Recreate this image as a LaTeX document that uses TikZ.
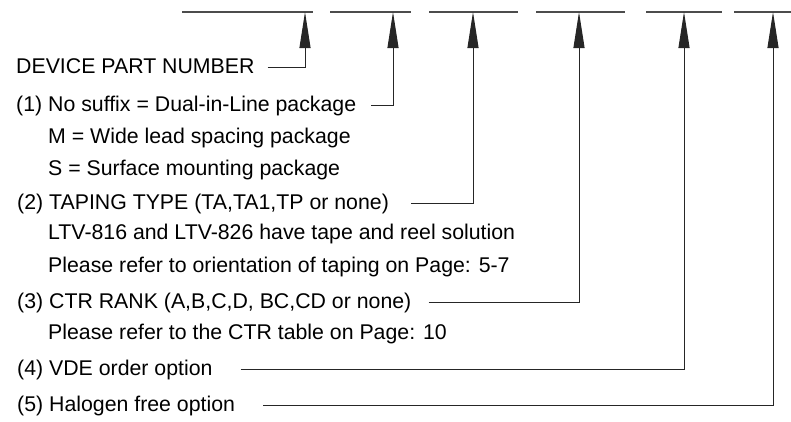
\documentclass[tikz,border=0pt]{standalone}
\usepackage{fontspec}
\setmainfont{Liberation Sans}
\usetikzlibrary{arrows.meta}

\tikzset{
    entry/.style={anchor=west, inner sep=0pt, text height=12pt, text depth=0pt,
        font=\fontsize{21.3}{25}\selectfont},
    fieldbar/.style={draw=black!70, line width=1.1pt},
    lead/.style={draw=black!85, line width=1pt,
        -{Triangle[length=36pt,width=11pt]}},
}

\begin{document}
\begin{tikzpicture}[x=1pt,y=-1pt]
    \useasboundingbox (0,0) rectangle (791,421);
    % ordering code fields
    \draw[fieldbar] (182,12) -- (313,12);
    \draw[fieldbar] (330,12) -- (411,12);
    \draw[fieldbar] (429,12) -- (518,12);
    \draw[fieldbar] (536,12) -- (625,12);
    \draw[fieldbar] (646,12) -- (722,12);
    \draw[fieldbar] (734,12) -- (791,12);
    \coordinate (f1) at (305,12);
    \coordinate (f2) at (393,12);
    \coordinate (f3) at (473,12);
    \coordinate (f4) at (579,12);
    \coordinate (f5) at (684,12);
    \coordinate (f6) at (773,12);
    % explanations
    \node[entry] (dev)   at (16,67)  {DEVICE PART NUMBER};
    \node[entry] (opt1)  at (16,105) {(1) No suffix = Dual-in-Line package};
    \node[entry] (opt1m) at (48,137) {M = Wide lead spacing package};
    \node[entry] (opt1s) at (48,169) {S = Surface mounting package};
    \node[entry] (opt2)  at (17,203) {(2) TAPING TYPE (TA,TA1,TP or none)};
    \node[entry] (opt2a) at (48,233) {LTV-816 and LTV-826 have tape and reel solution};
    \node[entry] (opt2b) at (48,266) {Please refer to orientation of taping on Page: 5-7};
    \node[entry] (opt3)  at (17,302) {(3) CTR RANK (A,B,C,D, BC,CD or none)};
    \node[entry] (opt3a) at (48,333) {Please refer to the CTR table on Page: 10};
    \node[entry] (opt4)  at (17,369) {(4) VDE order option};
    \node[entry] (opt5)  at (17,405) {(5) Halogen free option};
    % leads to the fields
    \draw[lead, shorten <=13pt] (dev.east) -| (f1);
    \draw[lead, shorten <=15pt] (opt1.east) -| (f2);
    \draw[lead, shorten <=22pt] (opt2.east) -| (f3);
    \draw[lead, shorten <=17pt] (opt3.east) -| (f4);
    \draw[lead, shorten <=28pt] (opt4.east) -| (f5);
    \draw[lead, shorten <=28pt] (opt5.east) -| (f6);
\end{tikzpicture}
\end{document}
